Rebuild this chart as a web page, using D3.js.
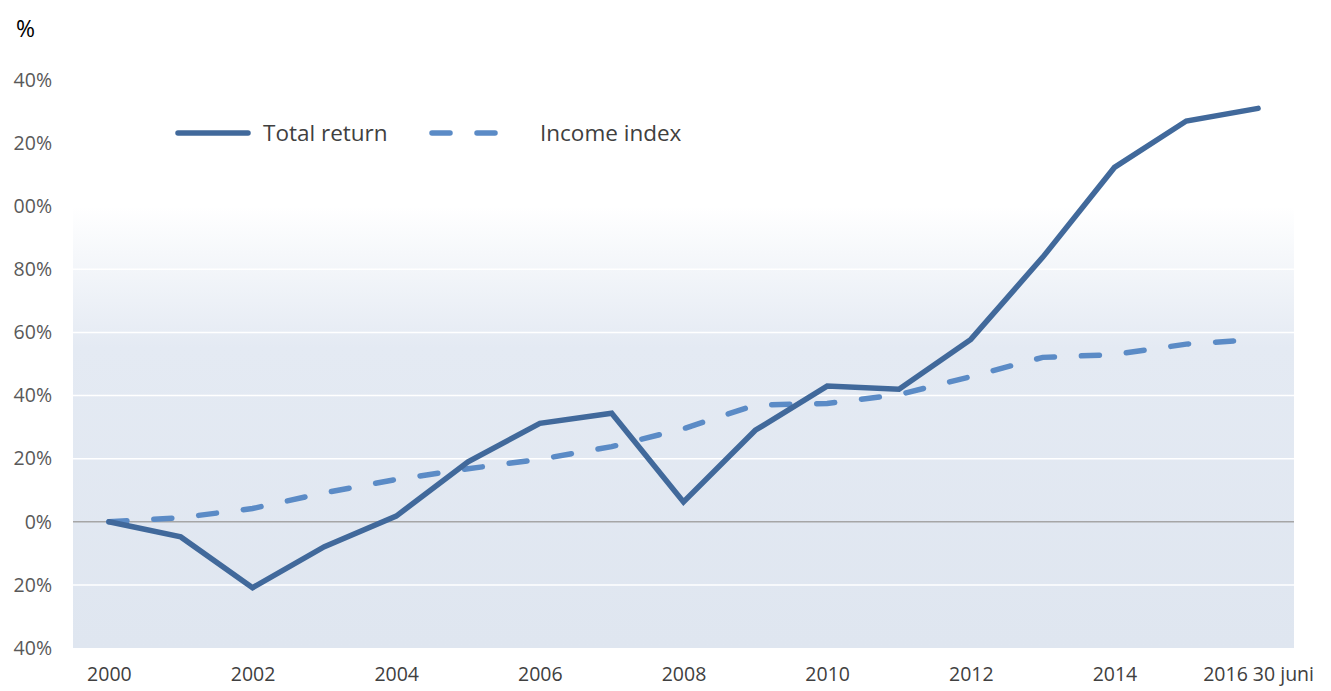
<!DOCTYPE html>
<html>
<head>
<meta charset="utf-8">
<script src="https://cdn.jsdelivr.net/npm/d3@7"></script>
<style>
  html, body { margin: 0; padding: 0; background: #ffffff; }
  svg { display: block; }
  text { font-family: "Open Sans", "Liberation Sans", sans-serif; }
</style>
</head>
<body>
<svg id="chart" width="1331" height="691"></svg>
<script>
// ---- data ----
const categories = ["2000","2001","2002","2003","2004","2005","2006","2007","2008",
                    "2009","2010","2011","2012","2013","2014","2015","2016"];
const xTickLabels = ["2000","","2002","","2004","","2006","","2008",
                     "","2010","","2012","","2014","","2016 30 juni"];
const totalReturn = [0, -4.8, -20.9, -7.9, 1.8, 19, 31.2, 34.4, 6.3,
                     29, 43, 42, 57.8, 83.8, 112.3, 127, 131];
const incomeIndex = [0, 1.3, 4.2, 9.2, 13.4, 16.8, 19.8, 23.8, 29.5,
                     37, 37.5, 40.3, 46, 52.1, 53, 56.3, 57.8];
const yTickValues = [140, 120, 100, 80, 60, 40, 20, 0, -20, -40];
const yTickLabels = ["40%","20%","00%","80%","60%","40%","20%","0%","20%","40%"];
const seriesNames = ["Total return", "Income index"];
const yUnit = "%";

// ---- layout ----
(function () {
const svg = d3.select("#chart");
const pLeft = 73, pRight = 1294, pTop = 80, pBottom = 648;

const x = d3.scalePoint().domain(categories).range([pLeft, pRight]).padding(0.5);
const y = d3.scaleLinear().domain([-40, 140]).range([pBottom, pTop]);

// background gradient
const defs = svg.append("defs");
const grad = defs.append("linearGradient").attr("id", "bg")
  .attr("x1", 0).attr("y1", 0).attr("x2", 0).attr("y2", 1);
grad.append("stop").attr("offset", "0%").attr("stop-color", "#ffffff");
grad.append("stop").attr("offset", "32%").attr("stop-color", "#e4eaf3");
grad.append("stop").attr("offset", "100%").attr("stop-color", "#dfe6f0");

svg.append("rect")
  .attr("x", pLeft).attr("y", y(100))
  .attr("width", pRight - pLeft).attr("height", pBottom - y(100))
  .attr("fill", "url(#bg)");

// gridlines
svg.append("g").selectAll("line")
  .data(yTickValues.filter(v => v !== 0 && v > -40 && v < 100))
  .join("line")
  .attr("x1", pLeft).attr("x2", pRight)
  .attr("y1", d => y(d)).attr("y2", d => y(d))
  .attr("stroke", "#ffffff").attr("stroke-width", 1.5);

// zero line
svg.append("line")
  .attr("x1", pLeft).attr("x2", pRight)
  .attr("y1", y(0)).attr("y2", y(0))
  .attr("stroke", "#a6a6a6").attr("stroke-width", 1.5);

// y axis labels
const yAxis = d3.axisLeft(y).tickValues(yTickValues)
  .tickFormat((d, i) => yTickLabels[i]).tickSize(0).tickPadding(0);
const gy = svg.append("g").attr("transform", "translate(52,0)").call(yAxis);
gy.select(".domain").remove();
gy.selectAll("text").attr("fill", "#595959").style("font-size", "19.5px")
  .style("font-family", "'Open Sans', sans-serif");

// x axis labels
const xAxis = d3.axisBottom(x).tickFormat((d, i) => xTickLabels[i]).tickSize(0).tickPadding(0);
const gx = svg.append("g").attr("transform", "translate(0,667)").call(xAxis);
gx.select(".domain").remove();
gx.selectAll("text").attr("fill", "#404040").style("font-size", "19.5px")
  .style("font-family", "'Open Sans', sans-serif");

// unit label
svg.append("text").attr("x", 16).attr("y", 37).text(yUnit)
  .attr("fill", "#000").style("font-size", "23px");

// lines
const line = d3.line().x((d, i) => x(categories[i])).y(d => y(d));
svg.append("path").datum(incomeIndex).attr("d", line)
  .attr("fill", "none").attr("stroke", "#5b8bc6").attr("stroke-width", 5.5)
  .attr("stroke-linecap", "round").attr("stroke-dasharray", "18,27");
svg.append("path").datum(totalReturn).attr("d", line)
  .attr("fill", "none").attr("stroke", "#41699b").attr("stroke-width", 5.5)
  .attr("stroke-linejoin", "miter").attr("stroke-linecap", "round");

// legend
const lg = svg.append("g");
lg.append("line").attr("x1", 178).attr("x2", 248).attr("y1", 133).attr("y2", 133)
  .attr("stroke", "#41699b").attr("stroke-width", 5.5).attr("stroke-linecap", "round");
lg.append("text").attr("x", 263).attr("y", 141).text(seriesNames[0])
  .attr("fill", "#404040").style("font-size", "22.5px");
lg.append("line").attr("x1", 432).attr("x2", 500).attr("y1", 133).attr("y2", 133)
  .attr("stroke", "#5b8bc6").attr("stroke-width", 5.5).attr("stroke-linecap", "round")
  .attr("stroke-dasharray", "18,27");
lg.append("text").attr("x", 540).attr("y", 141).text(seriesNames[1])
  .attr("fill", "#404040").style("font-size", "22.5px");
})();
</script>
</body>
</html>
